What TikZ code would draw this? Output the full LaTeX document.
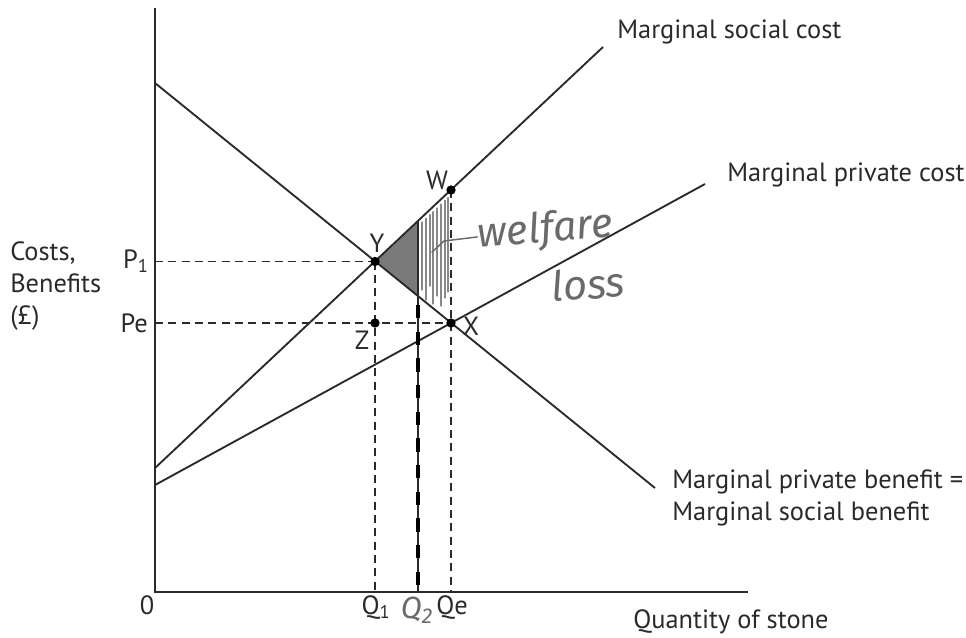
\documentclass[tikz,border=0pt]{standalone}
\usepackage{fontspec}
\setmainfont{PT Sans}
\newfontfamily\handfont{Fira Sans}
\usetikzlibrary{positioning}
\definecolor{InkGrey}{HTML}{2A2A2A}
\definecolor{PencilGrey}{HTML}{6A6A6A}
\definecolor{ShadeGrey}{HTML}{7A7A7A}

\begin{document}
\begin{tikzpicture}[x=0.75pt, y=-0.75pt,
  every node/.style={font=\fontsize{19.8}{24}\selectfont, text=InkGrey, inner sep=0pt, align=left},
  curve/.style={line width=1.4pt, InkGrey},
  axis/.style={line width=1.7pt, InkGrey},
  guide/.style={line width=1.1pt, InkGrey, dash pattern=on 6pt off 4pt},
  dot/.style={circle, fill=black, minimum size=7pt, inner sep=0pt},
  pencil/.style={PencilGrey, line width=1.1pt, line cap=round},
  hand/.style={font=\handfont\itshape\fontsize{31}{34}\selectfont, text=PencilGrey}]
  \useasboundingbox (0,0) rectangle (966,637);

  % key points
  \coordinate (O) at (155,592);
  \coordinate (ytop) at (155,8);
  \coordinate (xend) at (748,592);
  \coordinate (mpbA) at (155,83);
  \coordinate (mpbB) at (655,488);
  \coordinate (mscA) at (155,468);
  \coordinate (mscB) at (603,47);
  \coordinate (mpcA) at (155,485);
  \coordinate (mpcB) at (705,184);
  \coordinate (Y) at (375,261.5);
  \coordinate (X) at (451,323);
  \coordinate (W) at (451,190);
  \coordinate (Z) at (375,323);
  \coordinate (P1) at (155,261.5);
  \coordinate (Pe) at (155,323);
  \coordinate (Q1) at (375,592);
  \coordinate (Qe) at (451,592);
  \coordinate (Q2top) at (418,221);
  \coordinate (Q2bot) at (418,297);
  \coordinate (Q2) at (418,592);

  % shaded welfare loss
  \fill[ShadeGrey] (Y) -- (Q2top) -- (Q2bot) -- cycle;
  \foreach \x/\b in {422/290, 426/300, 430/286, 433/304, 437/296, 441/306, 445/298, 448/292}
    \draw[pencil, line width=0.9pt, PencilGrey!80] (\x,{468-0.9397*(\x-155)+5}) -- (\x,\b);

  % axes
  \draw[axis] (ytop) -- (O) -- (xend);

  % curves
  \draw[curve] (mpbA) -- (mpbB);
  \draw[curve] (mscA) -- (mscB);
  \draw[curve] (mpcA) -- (mpcB);

  % guides
  \draw[guide] (P1) -- (Y);
  \draw[guide] (Pe) -- (X);
  \draw[guide] (Y) -- (Q1);
  \draw[guide] (W) -- (Qe);
  \draw[InkGrey, line width=1.2pt] (Q2top) -- (Q2);
  \draw[black, line width=2.6pt, dash pattern=on 10pt off 10pt] (418,305) -- (Q2);

  % points
  \foreach \p in {Y,X,W,Z}
    \node[dot] (dot\p) at (\p) {};

  % point labels
  \node (labW) at (437,180) {W};
  \node (labY) at (377,243) {Y};
  \node (labX) at (471,326) {X};
  \node (labZ) at (362,340) {Z};

  % axis labels
  \node[anchor=west] (yaxislabel) at (10,286) {Costs,\\Benefits\\(£)};
  \node[anchor=east] (labP1) at (149,261.5) {P\textsubscript{1}};
  \node[anchor=east] (labPe) at (148,323) {Pe};
  \node (labO) at (147,605) {0};
  \node (labQ1) at (376,607) {Q\textsubscript{1}};
  \node (labQe) at (452,607) {Qe};
  \node[anchor=west] (xaxislabel) at (633,622) {Quantity of stone};

  % curve labels
  \node[anchor=west] (msclabel) at (617,32) {Marginal social cost};
  \node[anchor=west] (mpclabel) at (727,175) {Marginal private cost};
  \node[anchor=west] (mpblabel) at (672,498) {Marginal private benefit =\\Marginal social benefit};

  % handwritten notes
  \node[hand, rotate=5] (welfare) at (545,231) {welfare};
  \node[hand, rotate=4] (loss) at (588,284) {loss};
  \draw[pencil] (432,252) -- (444,241) -- (welfare.west);
  \node[hand, font=\handfont\itshape\fontsize{23}{24}\selectfont] (labQ2) at (417,610) {Q\textsubscript{2}};
\end{tikzpicture}
\end{document}
